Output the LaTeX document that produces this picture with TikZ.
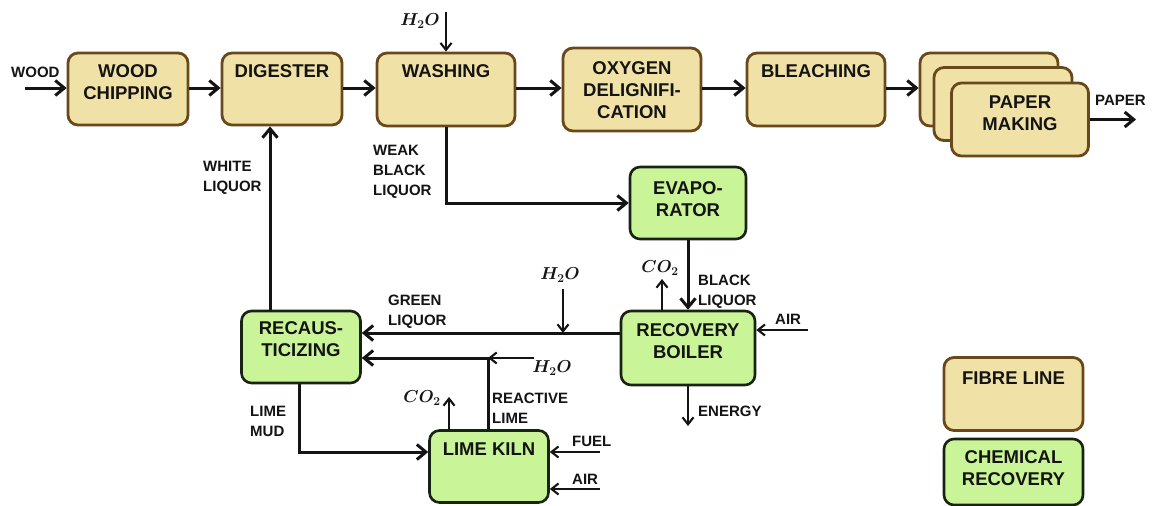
\documentclass[tikz,border=0pt]{standalone}
\usepackage{fontspec}
\setmainfont{Liberation Sans}
\usetikzlibrary{arrows.meta,calc}
\definecolor{fib}{RGB}{240,226,166}
\definecolor{fibd}{RGB}{105,72,28}
\definecolor{chem}{RGB}{202,244,152}
\definecolor{chemd}{RGB}{25,35,20}
\definecolor{ink}{RGB}{20,20,20}
\tikzset{
  fibre/.style={draw=fibd, fill=fib, line width=2.8pt, rounded corners=10pt, inner sep=0pt},
  chemb/.style={draw=chemd, fill=chem, line width=2.6pt, rounded corners=10pt, inner sep=0pt},
  btxt/.style={font=\fontsize{18.5}{22}\selectfont\bfseries, text=ink, align=center, anchor=north, inner sep=0pt},
  lbl/.style={font=\fontsize{15}{20}\selectfont\bfseries, text=ink, align=left, anchor=north west, inner sep=0pt},
  mlbl/.style={font=\fontsize{18.5}{20}\selectfont\boldmath, text=ink, inner sep=0pt},
  arrM/.style={draw=ink, line width=3pt, -{Straight Barb[length=9pt,width=15pt]}},
  arrS/.style={draw=ink, line width=2.1pt, -{Straight Barb[length=7pt,width=11pt]}},
}
\begin{document}
\begin{tikzpicture}[x=1pt,y=-1pt]
\useasboundingbox (0,0) rectangle (1160,506);
\fill[white] (0,0) rectangle (1160,506);
% ---------- fibre line boxes ----------
\node[fibre, minimum width=120, minimum height=72] (chip) at (128,89) {};
\node[fibre, minimum width=120, minimum height=72] (dig) at (282,89) {};
\node[fibre, minimum width=138, minimum height=73] (wash) at (446,89.5) {};
\node[fibre, minimum width=138, minimum height=83] (oxy) at (632,89.5) {};
\node[fibre, minimum width=138, minimum height=73] (bleach) at (816,89.5) {};
\node[fibre, minimum width=138, minimum height=73] (paper3) at (989,89.5) {};
\node[fibre, minimum width=138, minimum height=73] (paper2) at (1003,104) {};
\node[fibre, minimum width=137, minimum height=73] (paper1) at (1020,119.5) {};
% ---------- chemical recovery boxes ----------
\node[chemb, minimum width=116, minimum height=72] (evap) at (688,203) {};
\node[chemb, minimum width=134, minimum height=74] (boiler) at (688,348) {};
\node[chemb, minimum width=119, minimum height=72] (recaus) at (301,347) {};
\node[chemb, minimum width=119, minimum height=72] (kiln) at (489,466.5) {};
% ---------- legend ----------
\node[fibre, minimum width=139, minimum height=73] (legF) at (1013.5,394) {};
\node[chemb, minimum width=139, minimum height=66] (legC) at (1013.5,472) {};
% ---------- box texts ----------
\node[btxt] at ($(chip.north)+(0,13)$) {WOOD\\CHIPPING};
\node[btxt] at ($(dig.north)+(0,13)$) {DIGESTER};
\node[btxt] at ($(wash.north)+(0,13)$) {WASHING};
\node[btxt, anchor=center] at ($(oxy.center)+(0,1)$) {OXYGEN\\DELIGNIFI-\\CATION};
\node[btxt] at ($(bleach.north)+(0,13)$) {BLEACHING};
\node[btxt] at ($(paper1.north)+(0,14)$) {PAPER\\MAKING};
\node[btxt] at ($(evap.north)+(0,16)$) {EVAPO-\\RATOR};
\node[btxt] at ($(boiler.north)+(0,14)$) {RECOVERY\\BOILER};
\node[btxt] at ($(recaus.north)+(0,12)$) {RECAUS-\\TICIZING};
\node[btxt] at ($(kiln.north)+(0,13)$) {LIME KILN};
\node[btxt] at ($(legF.north)+(0,15)$) {FIBRE LINE};
\node[btxt] at ($(legC.north)+(0,13)$) {CHEMICAL\\RECOVERY};
% ---------- coordinates ----------
\coordinate (woodin) at (25,88);
\coordinate (paperout) at (1136,119.5);
\coordinate (h2otop) at (446,12);
\coordinate (co2b) at (662,279);
\coordinate (airb) at (808,330);
\coordinate (energy) at (688,426);
\coordinate (gl) at (0,333);
\coordinate (h2og) at (563,289);
\coordinate (rl) at (488,358);
\coordinate (h2or) at (534,358);
\coordinate (co2k) at (449,397);
\coordinate (lm) at (299,452);
\coordinate (fuel) at (600,452);
\coordinate (airk) at (600,489);
\coordinate (wl) at (270,0);
% ---------- fibre line connectors ----------
\draw[arrM] (woodin) -- (woodin -| chip.west);
\draw[arrM] (chip.east |- woodin) -- (dig.west |- woodin);
\draw[arrM] (dig.east |- woodin) -- (wash.west |- woodin);
\draw[arrM] (wash.east |- woodin) -- (oxy.west |- woodin);
\draw[arrM] (oxy.east |- woodin) -- (bleach.west |- woodin);
\draw[arrM] (bleach.east |- woodin) -- (paper3.west |- woodin);
\draw[arrM] (paper1.east) -- (paperout);
\draw[arrS] (h2otop) -- (wash.north);
% ---------- chemical recovery connectors ----------
\draw[arrM] (wash.south) |- (evap.west);
\draw[arrM] (evap.south) -- (boiler.north);
\draw[arrS] (boiler.north -| co2b) -- (co2b);
\draw[arrS] (airb) -- (airb -| boiler.east);
\draw[arrS] (boiler.south) -- (energy);
\draw[arrM] (boiler.west |- gl) -- (recaus.east |- gl);
\draw[arrS] (h2og) -- (h2og |- gl);
\draw[arrM] (kiln.north -| rl) -- (rl) -- (recaus.east |- rl);
\draw[arrS] (h2or) -- (rl);
\draw[arrS] (kiln.north -| co2k) -- (co2k);
\draw[arrM] (recaus.south -| lm) -- (lm) -- (kiln.west |- lm);
\draw[arrS] (fuel) -- (fuel -| kiln.east);
\draw[arrS] (airk) -- (airk -| kiln.east);
\draw[arrM] (recaus.north -| wl) -- (dig.south -| wl);
% ---------- labels ----------
\node[lbl] at (11,67) {WOOD};
\node[lbl] at (1095,95) {PAPER};
\node[lbl] at (203,161) {WHITE\\LIQUOR};
\node[lbl] at (373,145) {WEAK\\BLACK\\LIQUOR};
\node[lbl] at (388,295) {GREEN\\LIQUOR};
\node[lbl] at (698,275) {BLACK\\LIQUOR};
\node[lbl] at (775,314) {AIR};
\node[lbl] at (698,406) {ENERGY};
\node[lbl] at (492,393) {REACTIVE\\LIME};
\node[lbl] at (250,406) {LIME\\MUD};
\node[lbl] at (572,436) {FUEL};
\node[lbl] at (572,474) {AIR};
\node[mlbl] at (420,21) {$H_2O$};
\node[mlbl] at (560,275) {$H_2O$};
\node[mlbl] at (552,368) {$H_2O$};
\node[mlbl] at (660,268) {$CO_2$};
\node[mlbl] at (422,398) {$CO_2$};
\end{tikzpicture}
\end{document}
